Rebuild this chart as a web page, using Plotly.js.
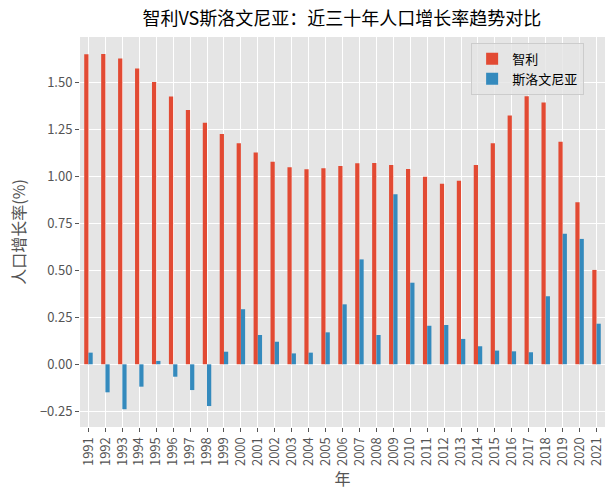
<!DOCTYPE html>
<html>
<head>
<meta charset="utf-8">
<script src="https://cdn.plot.ly/plotly-3.0.1.min.js"></script>
<style>html,body{margin:0;padding:0;background:#fff;}</style>
</head>
<body>
<div id="chart" style="width:616px;height:500px;"></div>
<script>
const years = ["1991","1992","1993","1994","1995","1996","1997","1998","1999","2000",
  "2001","2002","2003","2004","2005","2006","2007","2008","2009","2010",
  "2011","2012","2013","2014","2015","2016","2017","2018","2019","2020","2021"];
const chile = [1.649,1.650,1.626,1.574,1.502,1.424,1.353,1.285,1.225,1.176,
  1.126,1.078,1.048,1.037,1.043,1.055,1.069,1.071,1.060,1.039,
  0.998,0.961,0.977,1.060,1.176,1.324,1.426,1.392,1.184,0.862,0.502];
const slovenia = [0.062,-0.149,-0.239,-0.119,0.018,-0.066,-0.137,-0.222,0.067,0.293,
  0.156,0.120,0.058,0.062,0.170,0.319,0.558,0.156,0.904,0.434,
  0.205,0.209,0.135,0.096,0.073,0.069,0.064,0.362,0.695,0.667,0.216];
const seriesNames = ["智利","斯洛文尼亚"];
const yTicks = [-0.25,0,0.25,0.5,0.75,1.0,1.25,1.5];

const FONT = '"Noto Sans CJK SC", "DejaVu Sans", sans-serif';
const data = [
  {type:'bar', name:seriesNames[0], x:years, y:chile, marker:{color:'#E24A33'}},
  {type:'bar', name:seriesNames[1], x:years, y:slovenia, marker:{color:'#348ABD'}}
];
const layout = {
  width:616, height:500,
  margin:{l:80, r:11, t:37, b:73, pad:0},
  paper_bgcolor:'#FFFFFF', plot_bgcolor:'#E5E5E5',
  font:{family:FONT, size:13, color:'#555555'},
  title:{text:'智利VS斯洛文尼亚：近三十年人口增长率趋势对比', font:{family:FONT, size:18, color:'#000000'}, x:0.555, xanchor:'center', y:0.962, yanchor:'middle'},
  barmode:'group', bargap:0.5, bargroupgap:0,
  showlegend:true,
  legend:{x:0.745, y:0.985, xanchor:'left', yanchor:'top', bgcolor:'rgba(229,229,229,0.8)', bordercolor:'#CCCCCC', borderwidth:1, font:{family:FONT, size:13, color:'#000000'}},
  xaxis:{type:'category', range:[-0.5,30.5], tickangle:-90, showgrid:true, gridcolor:'#FFFFFF', gridwidth:1,
    ticks:'outside', ticklen:4, tickcolor:'#555555', tickfont:{family:FONT, size:13, color:'#555555'},
    title:{text:'年', font:{family:FONT, size:16, color:'#555555'}, standoff:4}, zeroline:false, showline:false},
  yaxis:{range:[-0.3335,1.741], tickvals:yTicks, tickformat:'.2f', showgrid:true, gridcolor:'#FFFFFF', gridwidth:1,
    ticks:'outside', ticklen:4, tickcolor:'#555555', tickfont:{family:FONT, size:13, color:'#555555'},
    title:{text:'人口增长率(%)', font:{family:FONT, size:16, color:'#555555'}, standoff:10}, zeroline:false, showline:false}
};
Plotly.newPlot('chart', data, layout, {displayModeBar:false, staticPlot:true});
</script>
</body>
</html>
